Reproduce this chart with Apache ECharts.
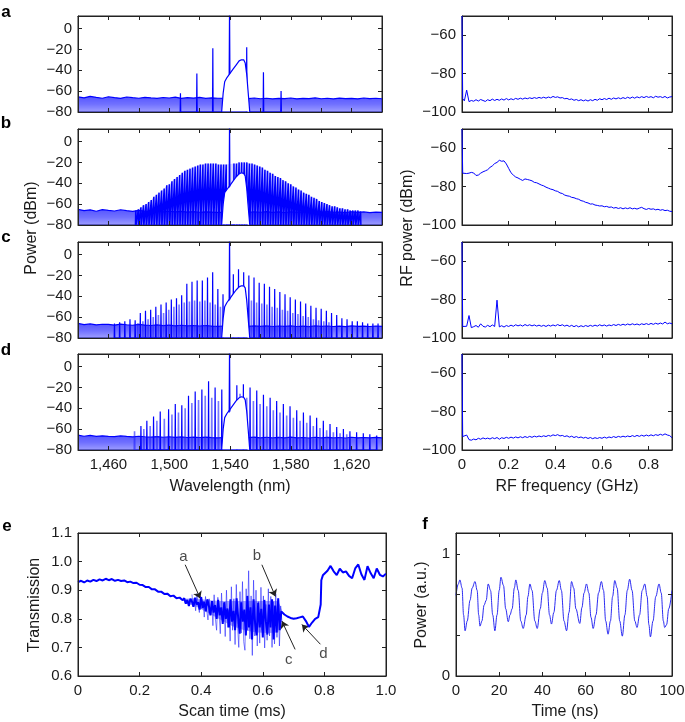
<!DOCTYPE html>
<html><head><meta charset="utf-8">
<script src="https://cdn.jsdelivr.net/npm/echarts@6/dist/echarts.min.js"></script>
<style>html,body{margin:0;padding:0;background:#fff}#c{width:685px;height:722px}</style>
</head><body><div id="c"></div>
<script>
// ---------- DATA ----------
const wlTicks = [1460, 1500, 1540, 1580, 1620];
const floorWl = [1440,1444,1448,1452,1456,1460,1464,1468,1472,1476,1480,1484,1488,1492,1496,1500,1504,1508,1512,1516,1520,1524,1528,1532,1536,1540,1544,1548,1552,1556,1560,1564,1568,1572,1576,1580,1584,1588,1592,1596,1600,1604,1608,1612,1616,1620,1624,1628,1632,1636,1640];
const floorA = [-65.5,-66.5,-65.0,-66.0,-66.8,-65.4,-66.2,-66.9,-65.6,-66.3,-66.8,-65.9,-66.5,-67.0,-66.1,-66.6,-65.8,-66.9,-66.3,-66.7,-66.0,-67.0,-66.4,-66.8,-67.0,-67.0,-67.0,-66.5,-67.2,-66.6,-67.3,-66.8,-67.5,-66.9,-67.2,-66.6,-67.4,-66.9,-67.1,-66.5,-67.3,-66.8,-67.5,-66.7,-67.2,-66.9,-67.4,-66.6,-67.1,-66.8,-67.3];
const floorB = [-65.0,-66.2,-65.5,-66.8,-65.3,-66.0,-66.6,-65.4,-66.3,-66.9,-66.0,-66.8,-67.2,-66.5,-67.4,-66.8,-67.5,-67.0,-67.6,-67.2,-67.8,-67.4,-67.6,-67.9,-67.8,-67.8,-67.8,-67.5,-67.9,-67.3,-67.8,-67.2,-67.9,-67.4,-68.0,-67.3,-67.8,-67.5,-68.1,-67.4,-67.9,-67.2,-67.8,-67.6,-68.0,-67.3,-67.9,-67.5,-68.1,-67.6,-67.9];
const floorC = [-66.0,-67.2,-66.5,-67.5,-66.8,-67.0,-67.6,-66.7,-67.3,-67.8,-67.0,-67.6,-68.0,-67.4,-68.2,-67.6,-68.3,-67.8,-68.4,-68.0,-68.5,-68.0,-68.6,-68.8,-68.5,-68.5,-68.5,-68.2,-68.8,-68.3,-68.9,-68.4,-69.0,-68.5,-68.9,-68.3,-69.0,-68.6,-69.1,-68.4,-68.9,-68.5,-69.0,-68.6,-69.1,-68.4,-68.9,-68.6,-69.0,-68.5,-68.9];
const floorD = [-65.8,-66.8,-66.0,-67.0,-66.4,-66.9,-67.2,-66.5,-67.0,-67.4,-66.8,-67.3,-67.7,-67.1,-67.8,-67.3,-67.9,-67.5,-68.0,-67.6,-68.0,-67.6,-68.1,-68.3,-68.0,-68.0,-68.0,-67.8,-68.2,-67.7,-68.3,-67.8,-68.4,-67.9,-68.3,-67.7,-68.4,-68.0,-68.5,-67.8,-68.3,-67.9,-68.4,-68.0,-68.5,-67.8,-68.3,-68.0,-68.4,-67.9,-68.3];

const humpWl = [1534.5,1535.5,1536.5,1538,1540,1542,1544,1546,1547.5,1549,1550,1551,1552,1553];
const humpA = [-80,-62,-51,-47,-43,-39,-35,-31,-30,-30,-33,-44,-62,-80];
const humpB = [-80,-60,-49,-46,-42,-38,-34,-31,-30,-30.5,-33,-45,-63,-80];
const humpC = [-80,-61,-50,-46,-42,-38,-34,-31,-30,-30,-32,-44,-62,-80];
const humpD = [-80,-60,-49,-45,-41,-37,-33,-30,-29,-29.5,-32,-43,-61,-80];
const pumpWl = [1539.45,1539.7,1539.95];
const pumpPow = [-44, 20, -43];

const spikeWlA = [1507.4,1518.2,1528.7,1551.0,1562.0,1573.6];
const spikePkA = [-62,-43,-19,-18,-42,-60];

const combWlB = [1478.0,1479.7,1481.4,1483.1,1484.8,1486.5,1488.2,1489.9,1491.6,1493.3,1495.0,1496.7,1498.4,1500.1,1501.8,1503.5,1505.2,1506.9,1508.6,1510.3,1512.0,1513.7,1515.4,1517.1,1518.8,1520.5,1522.2,1523.9,1525.6,1527.3,1529.0,1530.7,1532.4,1534.1,1535.8,1537.5,
 1542.6,1544.3,1546.0,1547.7,1549.4,1551.1,1552.8,1554.5,1556.2,1557.9,1559.6,1561.3,1563.0,1564.7,1566.4,1568.1,1569.8,1571.5,1573.2,1574.9,1576.6,1578.3,1580.0,1581.7,1583.4,1585.1,1586.8,1588.5,1590.2,1591.9,1593.6,1595.3,1597.0,1598.7,1600.4,1602.1,1603.8,1605.5,1607.2,1608.9,1610.6,1612.3,1614.0,1615.7,1617.4,1619.1,1620.8,1622.5,1624.2,1625.9];
const combPkB = [-66,-65,-63,-61,-60,-58,-56,-53,-51,-49,-47,-45,-42,-41,-38,-36,-34,-32,-30,-28,-27,-26,-25,-24,-23,-22,-22,-21,-21,-21,-21,-21,-22,-22,-22,-22,
 -21,-21,-20,-20,-20,-20,-21,-21,-22,-23,-24,-25,-27,-28,-30,-31,-33,-34,-35,-37,-38,-40,-41,-43,-44,-46,-47,-49,-50,-51,-53,-54,-55,-57,-58,-59,-60,-61,-62,-62,-63,-64,-64,-65,-65,-66,-66,-66,-66,-67];

const combWlC = [1464.0,1467.4,1470.8,1474.2,1477.6,1481.0,1484.4,1487.8,1491.2,1494.6,1498.0,1501.4,1504.8,1508.2,1511.6,1515.0,1518.4,1521.8,1525.2,1528.6,1532.0,1535.4,
 1542.2,1545.6,1549.0,1552.4,1555.8,1559.2,1562.6,1566.0,1569.4,1572.8,1576.2,1579.6,1583.0,1586.4,1589.8,1593.2,1596.6,1600.0,1603.4,1606.8,1610.2,1613.6,1617.0,1620.4,1623.8,1627.2,1630.6,1634.0,1637.4];
const combPkC = [-66,-65,-64,-62,-63,-56,-54,-53,-50,-48,-46,-43,-42,-39,-28,-26,-25,-25,-22,-17,-33,-38,
 -19,-14,-17,-20,-22,-27,-28,-31,-33,-36,-38,-41,-43,-45,-47,-49,-51,-52,-54,-56,-58,-61,-62,-64,-64,-65,-66,-66,-66];
const secWlC = [1479.3,1482.7,1486.1,1489.5,1492.9,1496.3,1499.7,1503.1,1506.5,1509.9,1513.3,1516.7,1520.1,1523.5,1526.9,1530.3,1533.7,
 1543.9,1547.3,1550.7,1554.1,1557.5,1560.9,1564.3,1567.7,1571.1,1574.5,1577.9,1581.3,1584.7,1588.1,1591.5,1594.9,1598.3,1601.7,1605.1];
const secPkC = [-66,-64,-62,-60,-58,-56,-53,-50,-48,-46,-45,-44,-45,-44,-46,-48,-50,
 -40,-38,-42,-44,-46,-47,-48,-50,-51,-53,-54,-56,-57,-59,-60,-62,-63,-64,-65];

const combWlD = [1481.4,1485.3,1489.7,1494.1,1499.6,1504.0,1508.3,1512.7,1517.1,1521.5,1525.9,1530.2,1534.6,
 1544.5,1548.8,1553.2,1557.6,1562.0,1566.4,1570.7,1575.1,1579.5,1583.9,1588.3,1592.7,1597.0,1601.4,1605.8,1610.2,1614.6,1618.9,1623.3,1627.7,1632.0,1636.5];
const combPkD = [-57,-52,-48,-43,-41,-36,-37,-28,-24,-22,-14,-20,-22,
 -18,-17,-20,-23,-27,-30,-33,-36,-38,-42,-44,-47,-49,-52,-55,-58,-60,-62,-63,-64,-65,-66];
const secWlD = [1477.2,1483.3,1487.5,1491.9,1496.8,1501.8,1506.1,1510.5,1514.9,1519.3,1523.7,1528.0,1532.4,
 1546.6,1551.0,1555.4,1559.8,1564.2,1568.5,1572.9,1577.3,1581.7,1586.1,1590.5,1594.8,1599.2,1603.6,1608.0,1612.4,1616.8];
const secPkD = [-62,-60,-57,-52,-50,-46,-44,-40,-35,-32,-28,-30,-33,
 -26,-30,-33,-36,-38,-42,-44,-47,-49,-52,-54,-57,-59,-61,-63,-64,-65];

const rfFreq = [0,0.003,0.01,0.02,0.03,0.04,0.05,0.06,0.07,0.08,0.09,0.10,0.11,0.12,0.13,0.14,0.15,0.16,0.17,0.18,0.19,0.20,0.21,0.22,0.23,0.24,0.25,0.26,0.27,0.28,0.29,0.30,0.31,0.32,0.33,0.34,0.35,0.36,0.37,0.38,0.39,0.40,0.41,0.42,0.43,0.44,0.45,0.46,0.47,0.48,0.49,0.50,0.51,0.52,0.53,0.54,0.55,0.56,0.57,0.58,0.59,0.60,0.61,0.62,0.63,0.64,0.65,0.66,0.67,0.68,0.69,0.70,0.71,0.72,0.73,0.74,0.75,0.76,0.77,0.78,0.79,0.80,0.81,0.82,0.83,0.84,0.85,0.86,0.87,0.88,0.89,0.90];
const rfA = [-50,-93.0,-94.2,-88.6,-94.6,-94.0,-94.4,-93.6,-94.3,-93.5,-94.0,
 -94.5,-93.6,-94.1,-93.3,-94.0,-93.4,-93.9,-93.2,-93.8,-93.0,
 -93.7,-93.1,-93.6,-92.9,-93.4,-92.8,-93.3,-92.7,-93.1,-92.6,
 -93.0,-92.5,-92.9,-92.4,-92.8,-92.3,-92.8,-92.2,-92.6,-91.9,
 -92.4,-92.1,-92.7,-92.5,-93.1,-92.9,-93.5,-93.2,-93.9,-93.5,
 -94.1,-93.6,-94.2,-93.7,-94.3,-93.6,-94.1,-93.4,-93.9,-93.1,
 -93.6,-93.0,-93.5,-92.8,-93.4,-92.7,-93.2,-92.6,-93.1,-92.5,
 -93.0,-92.3,-92.9,-92.2,-92.8,-92.1,-92.6,-92.0,-92.5,-91.9,
 -92.4,-92.0,-92.6,-91.8,-92.3,-92.0,-92.5,-91.9,-92.7,-92.2,-92.0];
const rfB = [-50,-73.0,-73.5,-73.2,-73.0,-72.6,-72.9,-74.2,-74.0,-73.0,-72.3,
 -71.8,-71.2,-70.0,-69.2,-68.0,-67.4,-66.3,-66.8,-66.6,-68.2,
 -70.5,-72.8,-74.0,-75.0,-75.5,-76.2,-76.8,-76.0,-76.3,-76.6,
 -77.0,-77.8,-78.0,-78.6,-79.2,-79.6,-80.3,-80.8,-81.3,-81.6,
 -82.2,-82.5,-83.3,-83.6,-84.4,-84.8,-85.0,-85.6,-85.8,-86.3,
 -86.6,-87.3,-87.6,-88.2,-88.5,-89.1,-89.0,-89.6,-89.8,-90.1,
 -90.0,-90.5,-90.3,-90.8,-90.6,-91.2,-90.9,-91.4,-91.0,-91.6,
 -91.1,-91.5,-91.0,-91.6,-91.3,-91.7,-91.2,-90.8,-91.5,-91.9,
 -91.4,-91.8,-91.6,-92.1,-91.8,-92.3,-92.0,-92.5,-92.3,-92.8,-93.0];
const rfC = [-50,-94.0,-94.8,-93.9,-88.3,-94.6,-94.1,-93.5,-94.4,-92.6,-93.9,
 -94.3,-93.4,-94.1,-93.2,-94.0,-80.3,-94.2,-93.6,-94.3,-93.5,
 -94.0,-93.3,-93.9,-93.1,-93.7,-93.2,-93.8,-93.0,-93.6,-93.1,
 -93.7,-93.2,-93.8,-93.3,-93.9,-93.4,-94.0,-93.3,-93.8,-93.2,
 -93.7,-93.0,-93.6,-93.1,-93.8,-93.3,-94.0,-93.4,-94.1,-93.5,
 -94.2,-93.6,-94.1,-93.5,-94.0,-93.4,-93.9,-93.3,-93.8,-93.1,
 -93.7,-93.2,-93.8,-93.2,-93.6,-93.0,-93.5,-92.9,-93.4,-92.8,
 -93.3,-92.7,-93.2,-92.6,-93.1,-92.7,-93.2,-92.6,-93.0,-92.5,
 -93.0,-92.4,-92.9,-92.3,-92.8,-92.2,-92.7,-91.7,-92.6,-92.2,-92.6];
const rfD = [-50,-93.0,-93.8,-92.2,-94.6,-94.9,-94.3,-94.7,-93.9,-94.4,-93.7,
 -94.2,-93.8,-94.3,-93.6,-94.1,-93.5,-94.4,-93.6,-94.0,-93.4,
 -93.9,-93.3,-93.8,-93.2,-93.7,-93.1,-93.6,-93.0,-93.5,-92.9,
 -93.4,-92.8,-93.2,-92.7,-93.1,-92.6,-93.0,-92.4,-92.8,-92.1,
 -92.5,-92.0,-92.7,-92.4,-93.0,-92.6,-93.3,-92.8,-93.5,-93.0,
 -93.6,-93.2,-93.8,-93.4,-94.0,-93.5,-94.1,-93.6,-94.0,-93.5,
 -93.9,-93.3,-93.8,-93.2,-93.6,-93.0,-93.5,-92.9,-93.3,-92.8,
 -93.2,-92.7,-93.1,-92.5,-93.0,-92.4,-92.9,-92.3,-92.8,-92.2,
 -92.7,-92.1,-92.6,-92.0,-92.4,-91.8,-92.3,-91.6,-92.2,-92.5,-93.6];

const eTime = [0,0.01,0.02,0.03,0.04,0.05,0.06,0.07,0.08,0.09,
 0.10,0.11,0.12,0.13,0.14,0.15,0.16,0.17,0.18,0.19,
 0.20,0.21,0.22,0.23,0.24,0.25,0.26,0.27,0.28,0.29,
 0.30,0.31,0.32,0.33,0.34,
 0.345,0.350,0.355,0.360,0.365,0.370,0.375,0.380,0.385,0.390,
 0.395,0.400,0.405,0.410,0.415,0.420,0.425,0.430,0.435,0.440,
 0.445,0.450,0.455,0.460,0.465,0.470,0.475,0.480,0.485,0.490,
 0.495,0.500,0.505,0.510,0.515,0.520,0.525,0.530,0.535,0.540,
 0.545,0.550,0.555,0.560,0.565,0.570,0.575,0.580,0.585,0.590,
 0.595,0.600,0.605,0.610,0.615,0.620,0.625,0.630,0.635,0.640,
 0.645,0.650,0.655,0.660,
 0.665,0.670,0.680,0.690,0.700,0.710,0.720,0.730,0.740,0.745,
 0.750,0.755,0.760,0.770,0.780,0.785,0.788,0.790,0.795,0.800,
 0.810,0.820,0.830,0.840,0.850,0.860,0.870,0.880,0.890,0.900,
 0.910,0.920,0.930,0.940,0.950,0.960,0.970,0.980,0.990,1.000];
const eTrans = [0.928,0.933,0.927,0.934,0.930,0.936,0.932,0.938,0.934,0.940,
 0.935,0.939,0.933,0.936,0.932,0.934,0.928,0.930,0.925,0.926,
 0.919,0.918,0.911,0.911,0.903,0.903,0.895,0.895,0.887,0.888,
 0.879,0.881,0.872,0.874,0.865,
 0.872,0.853,0.866,0.845,0.870,0.860,0.842,0.874,0.850,0.858,
 0.832,0.876,0.838,0.860,0.826,0.868,0.845,0.812,0.862,0.822,
 0.848,0.800,0.866,0.812,0.840,0.782,0.858,0.800,0.836,0.770,
 0.868,0.790,0.828,0.760,0.872,0.805,0.748,0.858,0.790,0.832,
 0.742,0.880,0.770,0.840,0.728,0.868,0.785,0.742,0.856,0.770,
 0.835,0.735,0.866,0.790,0.745,0.850,0.770,0.868,0.728,0.846,
 0.752,0.872,0.760,0.826,
 0.822,0.815,0.808,0.803,0.800,0.802,0.805,0.808,0.792,0.782,
 0.772,0.776,0.787,0.800,0.806,0.812,0.850,0.935,0.952,0.955,
 0.968,0.985,0.966,0.953,0.975,0.962,0.966,0.950,0.942,0.976,
 0.990,0.956,0.936,0.984,0.960,0.942,0.976,0.954,0.948,0.958];
const eSpikeTime = [0.370,0.374,0.378,0.382,0.386,0.390,0.394,0.398,0.402,0.406,
 0.410,0.414,0.418,0.422,0.426,0.430,0.434,0.438,0.442,0.446,
 0.450,0.454,0.458,0.462,0.466,0.470,0.474,0.478,0.482,0.486,
 0.490,0.494,0.498,0.502,0.506,0.510,0.514,0.518,0.522,0.526,
 0.530,0.534,0.538,0.542,0.546,0.550,0.554,0.558,0.562,0.566,
 0.570,0.574,0.578,0.582,0.586,0.590,0.594,0.598,0.602,0.606,
 0.610,0.614,0.618,0.622,0.626,0.630,0.634,0.638,0.642,0.646,
 0.650,0.654,0.658,0.662];
const eSpikeTrans = [0.885,0.842,0.870,0.828,0.888,0.850,0.822,0.880,0.835,0.862,
 0.806,0.878,0.830,0.796,0.870,0.815,0.858,0.776,0.884,0.800,
 0.760,0.875,0.820,0.748,0.890,0.790,0.855,0.738,0.900,0.770,
 0.830,0.722,0.912,0.760,0.870,0.710,0.920,0.780,0.700,0.895,
 0.750,0.930,0.720,0.690,0.905,0.760,0.968,0.730,0.880,0.672,
 0.935,0.740,0.900,0.705,0.860,0.715,0.910,0.760,0.880,0.698,
 0.850,0.725,0.905,0.740,0.878,0.700,0.860,0.712,0.888,0.735,
 0.870,0.705,0.845,0.790];
const eBandHighTime = [0.345,0.380,0.420,0.460,0.500,0.540,0.580,0.620,0.650,0.662];
const eBandHigh     = [0.870,0.872,0.866,0.862,0.862,0.862,0.862,0.862,0.862,0.830];
const eBandLowTime  = [0.343,0.380,0.420,0.460,0.500,0.540,0.580,0.620,0.650,0.664];
const eBandLow      = [0.856,0.845,0.822,0.798,0.775,0.760,0.752,0.750,0.752,0.818];
const eNoteX = [0.342,0.581,0.684,0.797];
const eNoteY = [1.017,1.020,0.658,0.679];
const eNoteText = ['a','b','c','d'];
const eArrowFrom = [[0.348,0.989],[0.597,0.989],[0.705,0.693],[0.787,0.711]];
const eArrowTo = [[0.397,0.871],[0.641,0.878],[0.662,0.792],[0.727,0.780]];

const fTime = [0,1,1.8,2.8,3.5,4.2,5.2,6.5,7.5,8.8,9.8,10.5,11.1,12,13,14,14.9,16,17,18,19,20,20.8,22,23,24.2,25,26,27,27.7,28.8,30,31.1,32.5,33.3,34.2,35.2,36.5,37.6,39,40,41.1,42.2,43.3,44.2,45.3,46.5,47.8,48.8,50,51.2,52.3,53.5,54.5,55.5,57.3,58.3,59.3,60.4,61.5,62.5,63.5,64.8,66,67.3,68.3,69.3,70.4,71.5,72.5,73.5,74.6,75.8,77,78.2,79.3,80.4,81.5,82.8,83.8,85,86.2,87.4,88.5,89.3,90,91.2,92.5,94,95,96,96.6,97.5,98.5,100];
const fPow = [0.66,0.75,0.786,0.72,0.5,0.37,0.45,0.62,0.72,0.773,0.70,0.5,0.408,0.45,0.58,0.62,0.753,0.7,0.5,0.37,0.5,0.7,0.808,0.74,0.55,0.444,0.5,0.55,0.72,0.786,0.7,0.45,0.389,0.5,0.65,0.753,0.7,0.45,0.389,0.55,0.68,0.781,0.72,0.5,0.425,0.52,0.7,0.781,0.7,0.45,0.37,0.52,0.773,0.72,0.55,0.43,0.56,0.68,0.753,0.68,0.48,0.389,0.5,0.68,0.773,0.7,0.45,0.342,0.45,0.65,0.781,0.72,0.45,0.326,0.5,0.7,0.792,0.7,0.45,0.397,0.5,0.7,0.753,0.65,0.42,0.32,0.45,0.65,0.753,0.68,0.45,0.397,0.42,0.55,0.70];

// ---------- BUILD ----------
const FONT = '"Liberation Sans", Arial, Helvetica, sans-serif';
const TXT = '#1a1a1a';
const AX = '#222';
const BLUE = '#0000ff';
const grid = [], xAxis = [], yAxis = [], series = [];
const minus = v => String(v).replace('-', '\u2212');
const zip = (xs, ys) => xs.map((x, i) => [x, ys[i]]);
function combData(xs, ys, base) {
  const d = [];
  xs.forEach((x, i) => { d.push([x - 0.2, base], [x, ys[i]], [x + 0.2, base]); });
  return d;
}
function axisBase(gi, o, pos, labels) {
  return {
    type: 'value', gridIndex: gi, position: pos, min: o.min, max: o.max, interval: o.interval, z: 10,
    splitLine: { show: false },
    axisLine: { show: true, onZero: false, lineStyle: { color: AX, width: 1 } },
    axisTick: { show: true, inside: true, length: 4, lineStyle: { color: AX, width: 1 } },
    axisLabel: labels ? { show: true, formatter: o.fmt, margin: o.margin || 6, fontSize: 15, color: TXT, fontFamily: FONT, hideOverlap: false, showMinLabel: true, showMaxLabel: true } : { show: false },
    axisPointer: { show: false }
  };
}
function panel(box, xo, yo, showX) {
  const gi = grid.length;
  grid.push(Object.assign({ show: true, borderColor: AX, borderWidth: 1, containLabel: false, outerBoundsMode: 'none' }, box));
  xAxis.push(axisBase(gi, xo, 'bottom', showX));
  xAxis.push(axisBase(gi, xo, 'top', false));
  yAxis.push(axisBase(gi, yo, 'left', true));
  yAxis.push(axisBase(gi, yo, 'right', false));
  return { xAxisIndex: 2 * gi, yAxisIndex: 2 * gi };
}
function line(ax, data, extra) {
  series.push(Object.assign({
    type: 'line', xAxisIndex: ax.xAxisIndex, yAxisIndex: ax.yAxisIndex, data: data,
    symbol: 'none', silent: true, animation: false, clip: true, z: 3,
    lineStyle: { color: BLUE, width: 1 }, itemStyle: { color: BLUE }
  }, extra || {}));
}
const floorFill = () => new echarts.graphic.LinearGradient(0, 0, 0, 1, [
  { offset: 0, color: 'rgba(0,0,255,0.95)' }, { offset: 0.5, color: 'rgba(0,0,255,0.8)' }, { offset: 1, color: 'rgba(0,0,255,0.55)' }]);

const wlX = { min: 1440, max: 1640, interval: 20, margin: 7,
  fmt: v => { const r = Math.round(v); if (wlTicks.indexOf(r) < 0) return ''; const s = String(r); return s.slice(0, 1) + ',' + s.slice(1); } };
const dbY = { min: -80, max: 12, interval: 20, margin: 6, fmt: v => (v <= 0 && Math.round(v) % 20 === 0) ? minus(Math.round(v)) : '' };
const rfX = { min: 0, max: 0.9, interval: 0.2, margin: 7, fmt: v => v > 0.85 ? '' : (v === 0 ? '0' : v.toFixed(1)) };
const rfY = { min: -100, max: -50, interval: 20, margin: 6, fmt: v => (v <= -60 && Math.round(v) % 20 === 0) ? minus(Math.round(v)) : '' };

const tops = [16, 129, 242, 354];
const floors = [floorA, floorB, floorC, floorD];
const humps = [humpA, humpB, humpC, humpD];
const combs = [null, [combWlB, combPkB], [combWlC, combPkC], [combWlD, combPkD]];
const combW = [1, 1.5, 1.2, 1.2];
const secs = [null, null, [secWlC, secPkC], [secWlD, secPkD]];
const rfs = [rfA, rfB, rfC, rfD];

for (let r = 0; r < 4; r++) {
  const L = panel({ left: 78, top: tops[r], width: 304, height: 96 }, wlX, dbY, r === 3);
  line(L, zip(floorWl, floors[r]), { z: 2, lineStyle: { color: BLUE, width: 1.2 }, areaStyle: { color: floorFill(), origin: 'start' } });
  if (r === 1) line(L, zip(combWlB, combPkB), { z: 2, lineStyle: { width: 0, opacity: 0 }, areaStyle: { color: 'rgba(0,0,255,0.22)', origin: 'start' } });
  if (secs[r]) line(L, combData(secs[r][0], secs[r][1], -80), { z: 3, lineStyle: { color: 'rgba(30,30,255,0.6)', width: 1.6 } });
  if (combs[r]) line(L, combData(combs[r][0], combs[r][1], -80), { z: 4, lineStyle: { color: BLUE, width: combW[r] } });
  if (r === 0) line(L, combData(spikeWlA, spikePkA, -80), { z: 4, lineStyle: { color: BLUE, width: 1.2 } });
  line(L, zip(humpWl, humps[r]), { z: 5, lineStyle: { color: BLUE, width: 1.2 }, areaStyle: { color: '#ffffff', opacity: 1, origin: -79.2 } });
  line(L, zip(pumpWl, pumpPow), { z: 6, lineStyle: { color: BLUE, width: 1.2 } });

  const R = panel({ left: 462, top: tops[r], width: 210, height: 96 }, rfX, rfY, r === 3);
  line(R, zip(rfFreq, rfs[r]), { z: 12, lineStyle: { color: BLUE, width: 1 } });
}

// panel e
const E = panel({ left: 78, top: 533, width: 308, height: 143 },
  { min: 0, max: 1, interval: 0.2, margin: 7, fmt: v => v === 0 ? '0' : v.toFixed(1) },
  { min: 0.6, max: 1.1, interval: 0.1, margin: 6, fmt: v => v.toFixed(1) }, true);
line(E, zip(eBandHighTime, eBandHigh), { z: 2, lineStyle: { width: 0, opacity: 0 }, areaStyle: { color: 'rgba(0,0,255,0.5)', origin: 0.62 } });
line(E, zip(eBandLowTime, eBandLow), { z: 3, lineStyle: { width: 0, opacity: 0 }, areaStyle: { color: '#ffffff', opacity: 1, origin: 0.61 } });
line(E, zip(eSpikeTime, eSpikeTrans), { z: 4, lineStyle: { color: 'rgba(40,40,255,0.6)', width: 1 } });
line(E, zip(eTime, eTrans), { z: 5, lineStyle: { color: BLUE, width: 2 },
  markLine: { silent: true, animation: false, symbol: ['none', 'arrow'], symbolSize: 7, precision: 4,
    lineStyle: { color: AX, width: 1, type: 'solid' }, label: { show: false }, emphasis: { disabled: true },
    data: eArrowFrom.map((p, i) => [{ coord: p }, { coord: eArrowTo[i] }]) } });
series.push({ type: 'scatter', xAxisIndex: E.xAxisIndex, yAxisIndex: E.yAxisIndex, silent: true, animation: false, z: 7,
  symbolSize: 1, itemStyle: { color: 'rgba(0,0,0,0)' },
  data: eNoteX.map((x, i) => [x, eNoteY[i], eNoteText[i]]),
  label: { show: true, position: 'inside', formatter: p => p.value[2], fontSize: 15, color: TXT, fontFamily: FONT } });

// panel f
const F = panel({ left: 456, top: 533, width: 216, height: 143 },
  { min: 0, max: 100, interval: 20, margin: 7, fmt: v => String(v) },
  { min: 0, max: 1.17, interval: 1 / 3, margin: 6, fmt: v => Math.abs(v) < 1e-6 ? '0' : (Math.abs(v - 1) < 1e-6 ? '1' : '') }, true);
line(F, zip(fTime, fPow), { smooth: 0.35, smoothMonotone: 'x', lineStyle: { color: 'rgba(20,20,240,0.9)', width: 1 } });

const txt = (t, x, y, opt) => Object.assign({ type: 'text', x: x, y: y, silent: true, z: 20,
  style: { text: t, fill: TXT, font: '16px ' + FONT, align: 'center', verticalAlign: 'middle' } }, opt || {});
const bold = t => ({ style: { text: t, fill: '#000', font: 'bold 17px ' + FONT, align: 'center', verticalAlign: 'middle' } });
const rot = { rotation: Math.PI / 2 };
const graphic = [
  txt('a', 6, 12, bold('a')), txt('b', 6, 123, bold('b')), txt('c', 6, 237, bold('c')), txt('d', 6, 350, bold('d')),
  txt('e', 7, 526, bold('e')), txt('f', 425, 524, bold('f')),
  txt('Power (dBm)', 32, 228, rot), txt('RF power (dBm)', 408, 228, rot),
  txt('Wavelength (nm)', 230, 487), txt('RF frequency (GHz)', 567, 487),
  txt('Transmission', 35, 605, rot), txt('Scan time (ms)', 232, 712),
  txt('Power (a.u.)', 422, 605, rot), txt('Time (ns)', 565, 712)
];

const chart = echarts.init(document.getElementById('c'), null, { renderer: 'canvas' });
chart.setOption({ backgroundColor: '#ffffff', animation: false, grid, xAxis, yAxis, series, graphic });
</script></body></html>
